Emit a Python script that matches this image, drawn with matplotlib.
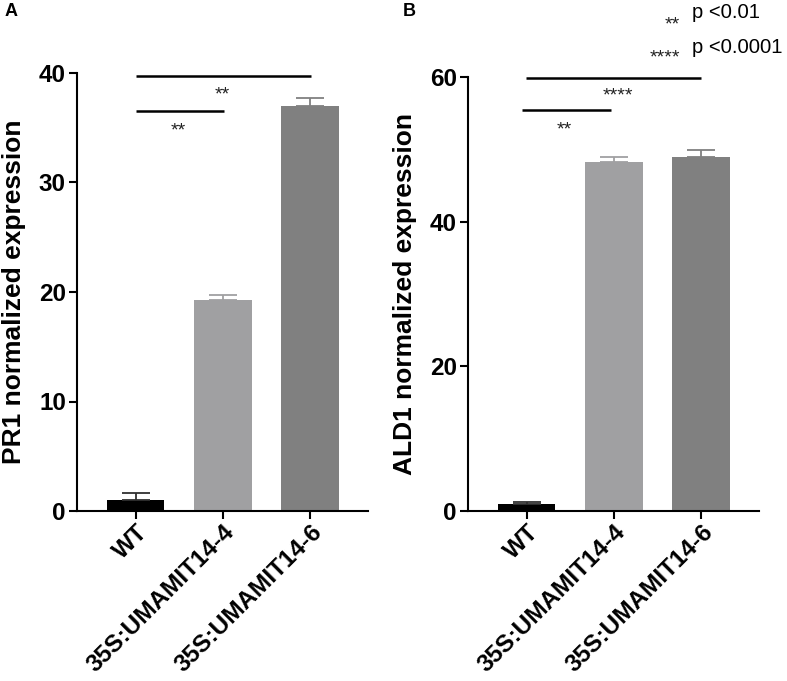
import matplotlib
matplotlib.use("Agg")
import matplotlib.pyplot as plt

plt.rcParams["font.family"] = ["Liberation Sans", "DejaVu Sans"]

# data
genotypes = ["WT", "35S:UMAMIT14-4", "35S:UMAMIT14-6"]
pr1_mean = [1.0, 19.3, 37.0]
pr1_err = [0.6, 0.4, 0.7]
ald1_mean = [1.0, 48.2, 48.9]
ald1_err = [0.3, 0.8, 1.0]
bar_colors = ["#000000", "#a0a0a2", "#808080"]
err_colors = ["#303030", "#a0a0a2", "#808080"]

# significance brackets: (x start, x end, y line, text x, text baseline y, stars)
pr1_sig = [(0.0, 2.01, 39.7, 0.99, 37.6, "**"),
           (0.0, 1.01, 36.5, 0.49, 34.3, "**")]
ald1_sig = [(-0.01, 2.0, 59.9, 1.04, 56.8, "****"),
            (-0.05, 0.97, 55.4, 0.43, 52.0, "**")]

fig = plt.figure(figsize=(7.87, 6.81), dpi=100)
axA = fig.add_axes([77 / 787, 170 / 681, 291 / 787, 438 / 681])
axB = fig.add_axes([468 / 787, 170 / 681, 291 / 787, 434 / 681])


def draw_panel(ax, means, errs, ymax, yticks, ylabel, sig):
    x = list(range(len(genotypes)))
    ax.bar(x, means, width=0.66, color=bar_colors, zorder=2)
    for xi, m, e, c in zip(x, means, errs, err_colors):
        ax.errorbar(xi, m, yerr=[[0], [e]], fmt="none", ecolor=c,
                    elinewidth=1.3, capsize=10.4, capthick=1.3, zorder=3)
    ax.set_xlim(-0.67, 2.66)
    ax.set_ylim(0, ymax)
    ax.set_yticks(yticks)
    ax.set_xticks(x)
    ax.set_xticklabels(genotypes, rotation=45, ha="right",
                       rotation_mode="anchor", fontsize=17.6, fontweight="bold")
    for lab in ax.get_yticklabels():
        lab.set_fontsize(17.5)
        lab.set_fontweight("bold")
    ax.spines["top"].set_visible(False)
    ax.spines["right"].set_visible(False)
    ax.spines["left"].set_linewidth(1.5)
    ax.spines["bottom"].set_linewidth(1.5)
    ax.tick_params(axis="y", direction="out", length=6, width=1.5, pad=2)
    ax.tick_params(axis="x", direction="out", length=6, width=1.5, pad=1)
    ax.set_ylabel(ylabel, fontsize=19, fontweight="bold", labelpad=9)
    for x0, x1, yl, tx, ty, s in sig:
        ax.plot([x0, x1], [yl, yl], color="black", lw=1.8, clip_on=False,
                solid_capstyle="butt")
        ax.text(tx, ty, s, ha="center", va="baseline", fontsize=14,
                color="#222222", clip_on=False)


draw_panel(axA, pr1_mean, pr1_err, 40, [0, 10, 20, 30, 40],
           "PR1 normalized expression", pr1_sig)
draw_panel(axB, ald1_mean, ald1_err, 60, [0, 20, 40, 60],
           "ALD1 normalized expression", ald1_sig)

fig.text(5 / 787, 1 - 12 / 681, "A", fontsize=13, fontweight="bold", va="center")
fig.text(403 / 787, 1 - 12 / 681, "B", fontsize=13, fontweight="bold", va="center")

# p-value key
fig.text(680 / 787, 1 - 29 / 681, "**", fontsize=14, ha="right", va="baseline",
         color="#222222")
fig.text(692 / 787, 1 - 18 / 681, "p <0.01", fontsize=14.6, ha="left", va="baseline")
fig.text(680 / 787, 1 - 62 / 681, "****", fontsize=14, ha="right", va="baseline",
         color="#222222")
fig.text(692 / 787, 1 - 53 / 681, "p <0.0001", fontsize=14.6, ha="left", va="baseline")

fig.savefig("out.png", dpi=100)
